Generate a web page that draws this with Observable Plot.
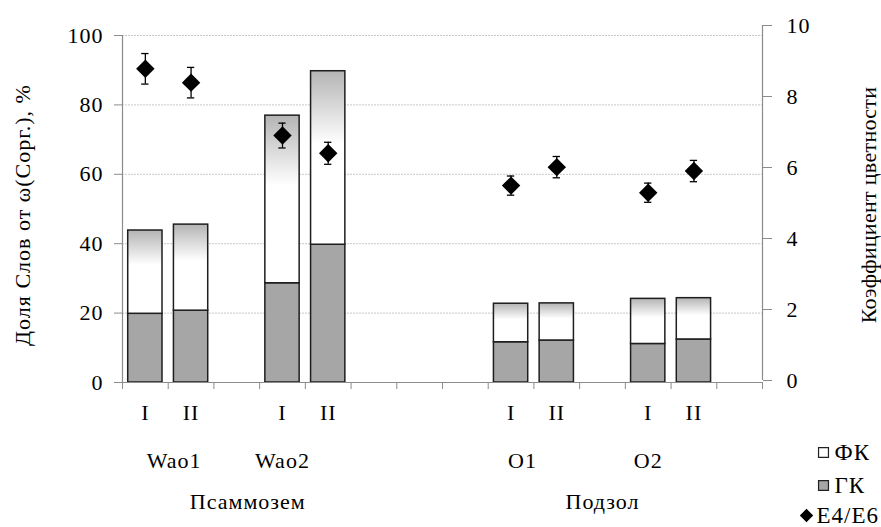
<!DOCTYPE html>
<html><head><meta charset="utf-8">
<script src="https://cdn.jsdelivr.net/npm/d3@7"></script>
<script src="https://cdn.jsdelivr.net/npm/@observablehq/plot@0.6"></script>
<style>
body{margin:0;background:#fff}
#chart svg, #chart svg text{font-family:"Liberation Serif","Times New Roman",serif !important}
#chart svg text{letter-spacing:1px}
</style>
</head><body><div id="chart"></div>
<script>
// Excel-style multi-level categories (14 slots, blanks included)
const soilCat   = ["Псаммозем","Псаммозем","Псаммозем","Псаммозем","Псаммозем","","","Подзол","Подзол","Подзол","Подзол","Подзол","Подзол","Подзол"];
const siteCat   = ["Wao1","Wao1","Wao2","Wao2","Wao2","","","O1","O1","O1","O2","O2","O2",""];
const sampleCat = ["I","II","","I","II","","","","I","II","","I","II",""];
// Series (null = empty slot)
const gkValues  = [19.8, 20.7, null, 28.6, 39.7, null, null, null, 11.6, 12.1, null, 11.1, 12.4, null]; // ГК, %
const fkValues  = [24.0, 24.8, null, 48.3, 50.0, null, null, null, 11.1, 10.7, null, 13.0, 11.9, null]; // ФК, %
const e46Values = [8.78, 8.39, null, 6.90, 6.40, null, null, null, 5.49, 6.01, null, 5.29, 5.90, null]; // E4/E6
const e46Errors = [0.43, 0.43, null, 0.35, 0.31, null, null, null, 0.27, 0.30, null, 0.27, 0.30, null];
const leftTicks  = [0, 20, 40, 60, 80, 100];
const rightTicks = [0, 2, 4, 6, 8, 10];
const legendLabels = ["ФК", "ГК", "E4/E6"];
const leftTitle = "Доля Слов от ω(Сорг.), %";
const rightTitle = "Коэффициент цветности";

const W = 881, H = 527, mL = 122, mR = 119, mT = 35, mB = 145;
const FONT = "Liberation Serif";
const FS = 22;

const yLeft  = Plot.scale({y: {domain: [0, 100], range: [H - mB, mT]}});
const yRight = Plot.scale({y: {domain: [0, 10], range: [H - mB - 2, 25]}});
const toLeft = v => yLeft.invert(yRight.apply(v));

const slots = d3.range(soilCat.length).map(i => ({
  i, soil: soilCat[i], site: siteCat[i], sample: sampleCat[i],
  gk: gkValues[i], fk: fkValues[i], e: e46Values[i], err: e46Errors[i]
}));
const rows = slots.filter(d => d.gk != null);
// label nudges (in slot units) to mimic the original text placement
const nudge = {Wao1: 0.13, O1: 0.25, "Псаммозем": 0.24};
const groupCenters = key => d3.groups(slots.filter(d => d[key]), d => d[key])
  .map(([name, g]) => ({name, x: d3.mean(g, d => d.i + 0.5) + (nudge[name] || 0)}));
const sites = groupCenters("site");
const soils = groupCenters("soil");
const bw = 0.375, cap = 0.08;
const T = {fontSize: FS, fontFamily: FONT, lineAnchor: "middle"};

const plot = Plot.plot({
  width: W, height: H,
  marginLeft: mL, marginRight: mR, marginTop: mT, marginBottom: mB,
  style: {fontFamily: FONT, fontSize: FS + "px", color: "black", background: "white"},
  x: {domain: [0, soilCat.length]},
  y: {domain: [0, 100]},
  marks: [
    Plot.gridY(leftTicks.filter(d => d > 0), {stroke: "#c8c8c8", strokeOpacity: 1, strokeDasharray: "2,1"}),
    Plot.rect(rows, {x1: d => d.i + 0.5 - bw, x2: d => d.i + 0.5 + bw, y1: 0, y2: d => d.gk,
      fill: "#a6a6a6", stroke: "#1e1e1e", strokeWidth: 1.5}),
    Plot.rect(rows, {x1: d => d.i + 0.5 - bw, x2: d => d.i + 0.5 + bw, y1: d => d.gk, y2: d => d.gk + d.fk,
      fill: "url(#fkGrad)", stroke: "#1e1e1e", strokeWidth: 1.5}),
    // axes lines
    Plot.ruleX([0], {y1: 0, y2: 100, stroke: "#8c8c8c", strokeWidth: 1.2}),
    Plot.ruleX([soilCat.length], {y1: toLeft(0), y2: toLeft(10), stroke: "#8c8c8c", strokeWidth: 1.2}),
    Plot.ruleY([0], {x1: 0, x2: soilCat.length, stroke: "#8c8c8c", strokeWidth: 1.2}),
    Plot.axisY({anchor: "left", ticks: leftTicks, tickSize: 8, tickPadding: 11, stroke: "#8c8c8c",
      fill: "black", fontSize: FS, fontFamily: FONT, label: null}),
    Plot.axisY({anchor: "right", ticks: rightTicks.map(toLeft),
      tickFormat: d => Math.round(yRight.invert(yLeft.apply(d))),
      tickSize: 9, tickPadding: 15, stroke: "#8c8c8c", fill: "black", fontSize: FS, fontFamily: FONT, label: null}),
    Plot.axisX({anchor: "bottom", ticks: d3.range(soilCat.length + 1), tickSize: 7, tickFormat: () => "",
      stroke: "#8c8c8c", label: null}),
    // error bars + diamonds
    Plot.ruleX(rows, {x: d => d.i + 0.5, y1: d => toLeft(d.e - d.err), y2: d => toLeft(d.e + d.err), stroke: "black", strokeWidth: 1.3}),
    Plot.ruleY(rows, {y: d => toLeft(d.e + d.err), x1: d => d.i + 0.5 - cap, x2: d => d.i + 0.5 + cap, stroke: "black", strokeWidth: 1.3}),
    Plot.ruleY(rows, {y: d => toLeft(d.e - d.err), x1: d => d.i + 0.5 - cap, x2: d => d.i + 0.5 + cap, stroke: "black", strokeWidth: 1.3}),
    Plot.dot(rows, {x: d => d.i + 0.5, y: d => toLeft(d.e), symbol: "diamond2", r: 8.3, fill: "black", stroke: null}),
    // category labels
    Plot.text(slots.filter(d => d.sample), {...T, x: d => d.i + 0.5, text: "sample", frameAnchor: "bottom", textAnchor: "middle", dy: 30}),
    Plot.text(sites, {...T, x: "x", text: "name", frameAnchor: "bottom", textAnchor: "middle", dy: 78}),
    Plot.text(soils, {...T, x: "x", text: "name", frameAnchor: "bottom", textAnchor: "middle", dy: 119}),
    // titles
    Plot.text([leftTitle], {...T, frameAnchor: "left", textAnchor: "middle", dx: -100, dy: 6, rotate: -90}),
    Plot.text([rightTitle], {...T, frameAnchor: "right", textAnchor: "middle", dx: 106, dy: -4, rotate: -90}),
    // legend
    Plot.dot([legendLabels[0]], {frameAnchor: "bottom-right", dx: 61, dy: 70, symbol: "square", r: 5.6, fill: "white", stroke: "#222", strokeWidth: 1.2}),
    Plot.dot([legendLabels[1]], {frameAnchor: "bottom-right", dx: 61, dy: 103, symbol: "square", r: 5.6, fill: "#a6a6a6", stroke: "#222", strokeWidth: 1.2}),
    Plot.dot([legendLabels[2]], {frameAnchor: "bottom-right", dx: 44, dy: 133, symbol: "diamond2", r: 6, fill: "black", stroke: null}),
    Plot.text([legendLabels[0]], {...T, fontSize: 23, frameAnchor: "bottom-right", dx: 72, dy: 70, textAnchor: "start"}),
    Plot.text([legendLabels[1]], {...T, fontSize: 23, frameAnchor: "bottom-right", dx: 72, dy: 103, textAnchor: "start"}),
    Plot.text([legendLabels[2]], {...T, fontSize: 23, frameAnchor: "bottom-right", dx: 54, dy: 133, textAnchor: "start"})
  ]
});

d3.select(plot).insert("defs", ":first-child").html(
  `<linearGradient id="fkGrad" x1="0" y1="0" x2="0" y2="1">
     <stop offset="0" stop-color="#b4b4b4"/>
     <stop offset="0.42" stop-color="#ffffff"/>
     <stop offset="1" stop-color="#ffffff"/>
   </linearGradient>`);
d3.select(plot).selectAll("text").filter(function() { return this.textContent === rightTitle; })
  .style("letter-spacing", "0.3px");
document.getElementById("chart").append(plot);
</script>
</body></html>
